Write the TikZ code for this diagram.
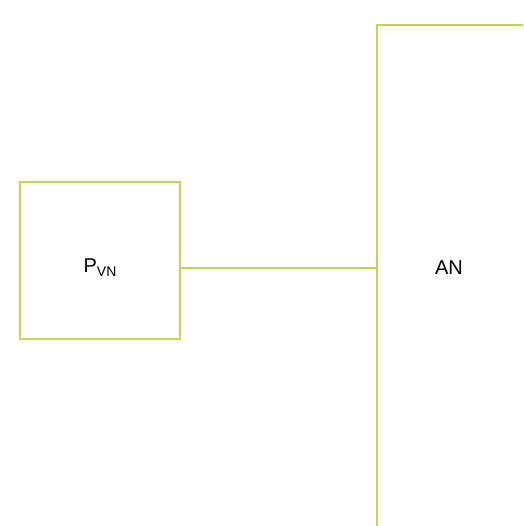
\documentclass[tikz,border=0pt]{standalone}
\usepackage{fontspec}
\setmainfont{Liberation Sans}
\usetikzlibrary{positioning}
\definecolor{linegreen}{RGB}{192,212,86}

\begin{document}
\begin{tikzpicture}[
        x=1pt, y=-1pt,
    % caixas com contorno verde
        block/.style={rectangle, draw=linegreen, line width=1.1pt, inner sep=0pt},
        lbl/.style={font=\fontsize{20}{24}\selectfont, inner sep=0pt},
        link/.style={draw=linegreen, line width=1.1pt}
    ]
    \useasboundingbox (0,0) rectangle (523,526);

    % --- BLOCO ESQUERDO ---
    \node[block, minimum width=160pt, minimum height=157pt] (pvn) at (100,260.5) {};
    \node[lbl] (pvnlabel) at (100,268) {P{\fontsize{14}{16}\selectfont\raisebox{-4pt}{VN}}};

    % --- BLOCO DIREITO (so a parte visivel) ---
    \node[rectangle, inner sep=0pt, anchor=north west, minimum width=146pt, minimum height=501pt] (an) at (377,25) {};
    \draw[link] (an.south west) -- (an.north west) -- (an.north east);
    \node[lbl] (anlabel) at (449,268) {AN};

    % --- LIGACAO ---
    \draw[link] (pvn.east |- pvnlabel) -- (an.west |- anlabel);
\end{tikzpicture}
\end{document}
